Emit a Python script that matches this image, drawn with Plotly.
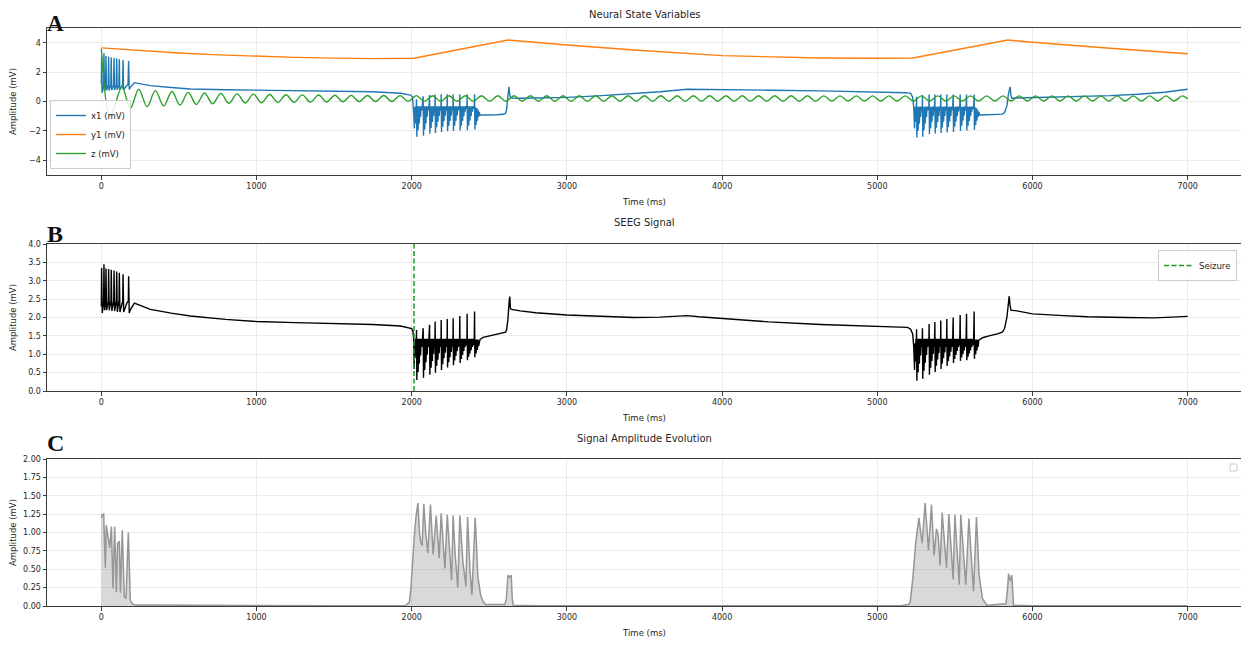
import plotly.graph_objects as go

# ---------------- DATA ----------------
time_ticks = [0, 1000, 2000, 3000, 4000, 5000, 6000, 7000]
time_tick_text = ["0", "1000", "2000", "3000", "4000", "5000", "6000", "7000"]
a_ticks = [-4, -2, 0, 2, 4]
a_tick_text = ["\u22124", "\u22122", "0", "2", "4"]
b_ticks = [0, 0.5, 1.0, 1.5, 2.0, 2.5, 3.0, 3.5, 4.0]
b_tick_text = ["0.0", "0.5", "1.0", "1.5", "2.0", "2.5", "3.0", "3.5", "4.0"]
c_ticks = [0, 0.25, 0.5, 0.75, 1.0, 1.25, 1.5, 1.75, 2.0]
c_tick_text = ["0.00", "0.25", "0.50", "0.75", "1.00", "1.25", "1.50", "1.75", "2.00"]

seizure_onset = 2015

# ---- x1 (mV) ----
x1_t_pre = [0, 2, 5, 14, 17, 20, 27, 30, 33, 44, 47, 50, 61, 64, 67, 79, 82, 85, 96, 99,
            102, 113, 116, 119, 137, 140, 143, 155, 165, 172, 176, 180, 190, 213, 316, 450, 574, 800, 1000, 1250,
            1498, 1750, 1928, 1993, 2005, 2010, 2014, 2017, 2020, 2023, 2026, 2029]
x1_v_pre = [1.2, 3.05, 0.6, 1.1, 3.28, 0.7, 1.1, 3.10, 0.75, 1.1, 3.05, 0.75, 1.1, 3.0, 0.78, 1.1, 2.97, 0.78, 1.1, 2.95,
            0.8, 1.1, 2.88, 0.8, 1.15, 2.82, 0.8, 1.0, 1.1, 1.15, 2.76, 0.83, 1.0, 1.28, 1.08, 0.95, 0.85, 0.80, 0.78, 0.75,
            0.72, 0.66, 0.56, 0.44, 0.3, -0.2, -1.0, -1.83, -0.35, -1.5, -0.35, -1.0]

x1_t_b2 = [2031, 2033, 2037, 2041, 2045, 2049, 2053, 2057, 2061, 2065, 2069,
           2074, 2076, 2080, 2084, 2088, 2092, 2096, 2100, 2104, 2108, 2112,
           2115, 2117, 2121, 2125, 2129, 2133, 2137, 2141, 2145, 2149,
           2151, 2153, 2157, 2161, 2165, 2169, 2173, 2177, 2181, 2185, 2189,
           2190, 2192, 2196, 2200, 2204, 2208, 2212, 2216, 2220, 2224, 2228,
           2229, 2231, 2235, 2239, 2243, 2247, 2251, 2255, 2259, 2263, 2266,
           2267, 2269, 2273, 2277, 2281, 2285, 2289, 2293, 2297, 2301, 2305, 2308,
           2310, 2312, 2316, 2320, 2324, 2328, 2332, 2336, 2340, 2344, 2348, 2352, 2356,
           2357, 2359, 2363, 2367, 2371, 2375, 2379, 2383, 2387, 2391, 2395, 2399, 2403,
           2405, 2407, 2411, 2415, 2419, 2423, 2427, 2431, 2435, 2440]
x1_v_b2 = [0.15, -2.39, -0.32, -1.95, -0.32, -1.5, -0.32, -1.05, -0.32, -0.6, -0.32,
           0.35, -2.33, -0.32, -1.9, -0.32, -1.47, -0.32, -1.03, -0.32, -0.6, -0.32,
           0.45, -2.2, -0.32, -1.8, -0.32, -1.4, -0.32, -1.0, -0.32, -0.6,
           0.48, -2.14, -0.32, -1.75, -0.32, -1.37, -0.32, -0.98, -0.32, -0.6, -0.32,
           0.5, -2.08, -0.32, -1.71, -0.32, -1.34, -0.32, -0.97, -0.32, -0.6, -0.32,
           0.5, -2.03, -0.32, -1.67, -0.32, -1.32, -0.32, -0.96, -0.32, -0.6, -0.32,
           0.5, -2.0, -0.32, -1.65, -0.32, -1.3, -0.32, -0.95, -0.32, -0.6, -0.32, -0.5,
           0.5, -1.97, -0.32, -1.65, -0.32, -1.33, -0.32, -1.0, -0.32, -0.7, -0.32, -0.5, -0.32,
           0.5, -1.95, -0.32, -1.63, -0.32, -1.3, -0.32, -1.0, -0.32, -0.7, -0.32, -0.5, -0.32,
           0.5, -1.9, -0.4, -1.6, -0.45, -1.3, -0.55, -1.05, -0.7, -0.92]

x1_t_mid = [2460, 2500, 2550, 2590, 2605, 2612, 2618, 2624, 2627, 2631,
            2636, 2650, 2700, 2800, 3000, 3200, 3400, 3600, 3775, 4000,
            4300, 4640, 5000, 5184, 5215, 5228, 5235, 5240, 5243, 5246,
            5249, 5251]
x1_v_mid = [-0.93, -0.92, -0.90, -0.87, -0.80, -0.5, 0.2, 0.85, 1.0, 0.5,
            0.28, 0.24, 0.22, 0.24, 0.28, 0.38, 0.5, 0.66, 0.83, 0.82,
            0.77, 0.72, 0.66, 0.6, 0.55, 0.3, -0.4, -1.83, -0.35, -1.4,
            -0.35, -0.9]

x1_t_b3 = [5253, 5255, 5259, 5263, 5267, 5271, 5275, 5279, 5283, 5287, 5290,
           5291, 5293, 5297, 5301, 5305, 5309, 5313, 5317, 5321, 5325, 5329, 5332,
           5334, 5336, 5340, 5344, 5348, 5352, 5356, 5360, 5364, 5368,
           5371, 5373, 5377, 5381, 5385, 5389, 5393, 5397, 5401, 5405, 5408,
           5409, 5411, 5415, 5419, 5423, 5427, 5431, 5435, 5439, 5443, 5447,
           5448, 5450, 5454, 5458, 5462, 5466, 5470, 5474, 5478, 5482, 5486,
           5489, 5491, 5495, 5499, 5503, 5507, 5511, 5515, 5519, 5523, 5527, 5531,
           5534, 5536, 5540, 5544, 5548, 5552, 5556, 5560, 5564, 5568, 5572,
           5575, 5577, 5581, 5585, 5589, 5593, 5597, 5601, 5605, 5609, 5613, 5617, 5621,
           5624, 5626, 5630, 5634, 5638, 5642, 5646, 5650, 5654, 5660]
x1_v_b3 = [0.33, -2.44, -0.35, -1.98, -0.35, -1.52, -0.35, -1.06, -0.35, -0.6, -0.35,
           0.45, -2.4, -0.35, -1.95, -0.35, -1.5, -0.35, -1.05, -0.35, -0.6, -0.35, -0.5,
           0.47, -2.23, -0.35, -1.82, -0.35, -1.41, -0.35, -1.0, -0.35, -0.6,
           0.47, -2.18, -0.35, -1.78, -0.35, -1.39, -0.35, -0.99, -0.35, -0.6, -0.35,
           0.47, -2.14, -0.35, -1.76, -0.35, -1.37, -0.35, -0.99, -0.35, -0.6, -0.35,
           0.47, -2.11, -0.35, -1.73, -0.35, -1.36, -0.35, -0.98, -0.35, -0.6, -0.35,
           0.47, -2.07, -0.35, -1.72, -0.35, -1.36, -0.35, -1.0, -0.35, -0.7, -0.35, -0.5,
           0.47, -2.0, -0.35, -1.65, -0.35, -1.3, -0.35, -0.95, -0.35, -0.6, -0.35,
           0.47, -1.97, -0.35, -1.65, -0.35, -1.33, -0.35, -1.0, -0.35, -0.7, -0.35, -0.5, -0.35,
           0.47, -1.92, -0.4, -1.6, -0.45, -1.3, -0.55, -1.05, -0.7, -0.92]

x1_t_post = [5678, 5720, 5780, 5807, 5820, 5835, 5845, 5852, 5856, 5860, 5866, 5900, 6000, 6200, 6355, 6500, 6677, 6850, 7000]
x1_v_post = [-0.92, -0.91, -0.89, -0.86, -0.75, -0.3, 0.5, 0.95, 1.0, 0.5, 0.22, 0.24, 0.27, 0.30, 0.33, 0.40, 0.49, 0.63, 0.83]

# ---- y1 (mV) ----
y1_t = [0, 250, 500, 750, 1000, 1250, 1500, 1750, 2015, 2620, 3000, 3432, 4000, 4300, 4640, 5000, 5230, 5840, 6000, 6500, 7000]
y1_v = [3.65, 3.45, 3.30, 3.17, 3.07, 3.00, 2.95, 2.92, 2.94, 4.18, 3.84, 3.50, 3.12, 3.03, 2.96, 2.94, 2.96, 4.18, 4.03, 3.62, 3.25]

# ---- z (mV): turning points of the oscillation ----
z_t = [0, 58, 133, 187, 241, 295, 348, 402, 455, 507, 560, 612, 665, 717, 770, 822, 875, 927, 980, 1032,
       1085, 1137, 1190, 1242, 1295, 1347, 1400, 1452, 1505, 1557, 1610, 1662, 1715, 1767, 1820, 1872, 1925, 1977,
       2030, 2082, 2135, 2187, 2240, 2292, 2345, 2397, 2450, 2502, 2555, 2607, 2660, 2712, 2765, 2817, 2870, 2922,
       2975, 3027, 3080, 3132, 3185, 3237, 3290, 3342, 3395, 3447, 3500, 3552, 3605, 3657, 3710, 3762, 3815, 3867,
       3920, 3972, 4025, 4077, 4130, 4182, 4235, 4287, 4340, 4392, 4445, 4497, 4550, 4602, 4655, 4707, 4760, 4812,
       4865, 4917, 4970, 5022, 5075, 5127, 5180, 5232, 5285, 5337, 5390, 5442, 5495, 5547, 5600, 5652, 5705, 5757,
       5810, 5862, 5915, 5967, 6020, 6072, 6125, 6177, 6230, 6282, 6335, 6387, 6440, 6492, 6545, 6597, 6650, 6702,
       6755, 6807, 6860, 6912, 6965, 7000]
z_v = [3.6, -1.03, 0.97, -0.46, 0.83, -0.35, 0.74, -0.30, 0.68, -0.24, 0.62, -0.20, 0.58, -0.16, 0.55, -0.13, 0.52, -0.10, 0.50, -0.08,
       0.48, -0.06, 0.46, -0.05, 0.45, -0.04, 0.44, -0.03, 0.43, -0.02, 0.42, -0.01, 0.41, 0.00, 0.41, 0.00, 0.40, 0.01,
       0.40, 0.01, 0.39, 0.02, 0.39, 0.02, 0.39, 0.02, 0.39, 0.02, 0.39, 0.02, 0.39, 0.02, 0.39, 0.02, 0.39, 0.02,
       0.39, 0.02, 0.39, 0.02, 0.39, 0.02, 0.39, 0.02, 0.39, 0.02, 0.39, 0.02, 0.39, 0.02, 0.39, 0.02, 0.39, 0.02,
       0.39, 0.02, 0.39, 0.02, 0.39, 0.02, 0.39, 0.02, 0.39, 0.02, 0.39, 0.02, 0.39, 0.02, 0.38, 0.03, 0.38, 0.03,
       0.38, 0.03, 0.38, 0.03, 0.38, 0.03, 0.38, 0.03, 0.38, 0.03, 0.38, 0.03, 0.38, 0.03, 0.38, 0.03, 0.38, 0.03,
       0.38, 0.03, 0.38, 0.03, 0.38, 0.03, 0.38, 0.03, 0.38, 0.03, 0.38, 0.03, 0.38, 0.03, 0.38, 0.03, 0.38, 0.03,
       0.38, 0.03, 0.38, 0.03, 0.38, 0.18]

# ---- SEEG signal (mV) ----
seeg_t_pre = [0, 2, 6, 15, 17, 21, 28, 30, 34, 45, 47, 51, 62, 64, 68, 80, 82, 86, 97, 99,
              103, 114, 116, 120, 138, 140, 144, 155, 165, 174, 176, 180, 186, 213, 316, 450, 574, 800, 1000, 1250,
              1498, 1750, 1928, 1982, 2000, 2008, 2013, 2016, 2019, 2022, 2025, 2028]
seeg_v_pre = [2.3, 3.35, 2.12, 2.45, 3.45, 2.2, 2.45, 3.33, 2.2, 2.45, 3.32, 2.2, 2.45, 3.30, 2.18, 2.45, 3.28, 2.18, 2.45, 3.25,
              2.15, 2.45, 3.22, 2.15, 2.45, 3.18, 2.15, 2.3, 2.4, 2.45, 3.12, 2.12, 2.2, 2.39, 2.22, 2.12, 2.04, 1.95, 1.89, 1.86,
              1.84, 1.81, 1.77, 1.73, 1.70, 1.62, 1.4, 0.6, 1.35, 0.9, 1.42, 1.1]

seeg_t_b2 = x1_t_b2
seeg_v_b2 = [1.66, 0.30, 1.42, 0.52, 1.42, 0.75, 1.42, 0.97, 1.42, 1.20, 1.42,
             1.71, 0.36, 1.42, 0.57, 1.42, 0.78, 1.42, 0.99, 1.42, 1.20, 1.42,
             1.80, 0.44, 1.42, 0.63, 1.42, 0.82, 1.42, 1.01, 1.42, 1.20,
             1.89, 0.50, 1.42, 0.68, 1.42, 0.85, 1.42, 1.03, 1.42, 1.20, 1.42,
             1.93, 0.57, 1.42, 0.73, 1.42, 0.89, 1.42, 1.04, 1.42, 1.20, 1.42,
             1.96, 0.64, 1.42, 0.78, 1.42, 0.92, 1.42, 1.06, 1.42, 1.20, 1.42,
             1.98, 0.70, 1.42, 0.83, 1.42, 0.95, 1.42, 1.08, 1.42, 1.20, 1.42, 1.25,
             2.04, 0.76, 1.42, 0.87, 1.42, 0.98, 1.42, 1.09, 1.42, 1.20, 1.42, 1.25, 1.42,
             2.10, 0.84, 1.42, 0.93, 1.42, 1.02, 1.42, 1.11, 1.42, 1.20, 1.42, 1.25, 1.42,
             2.16, 0.92, 1.40, 1.02, 1.40, 1.12, 1.40, 1.22, 1.38, 1.40]

seeg_t_mid = [2460, 2500, 2550, 2590, 2605, 2612, 2620, 2628, 2632, 2636,
              2642, 2700, 2800, 3000, 3200, 3432, 3600, 3700, 3776, 3850,
              3991, 4300, 4636, 5001, 5195, 5215, 5228, 5235, 5240, 5243,
              5246, 5249, 5251]
seeg_v_mid = [1.46, 1.50, 1.53, 1.58, 1.60, 1.68, 1.95, 2.45, 2.57, 2.25,
              2.22, 2.18, 2.13, 2.07, 2.03, 2.00, 2.01, 2.03, 2.05, 2.02,
              1.97, 1.88, 1.81, 1.77, 1.73, 1.68, 1.55, 1.2, 0.57, 1.3,
              0.8, 1.42, 1.1]

seeg_t_b3 = x1_t_b3
seeg_v_b3 = [1.68, 0.28, 1.42, 0.51, 1.42, 0.74, 1.42, 0.97, 1.42, 1.20, 1.42,
             1.71, 0.33, 1.42, 0.55, 1.42, 0.77, 1.42, 0.98, 1.42, 1.20, 1.42, 1.25,
             1.82, 0.44, 1.42, 0.63, 1.42, 0.82, 1.42, 1.01, 1.42, 1.20,
             1.88, 0.52, 1.42, 0.69, 1.42, 0.86, 1.42, 1.03, 1.42, 1.20, 1.42,
             1.92, 0.60, 1.42, 0.75, 1.42, 0.90, 1.42, 1.05, 1.42, 1.20, 1.42,
             1.96, 0.68, 1.42, 0.81, 1.42, 0.94, 1.42, 1.07, 1.42, 1.20, 1.42,
             2.00, 0.76, 1.42, 0.87, 1.42, 0.98, 1.42, 1.09, 1.42, 1.20, 1.42, 1.25,
             2.07, 0.82, 1.42, 0.92, 1.42, 1.01, 1.42, 1.10, 1.42, 1.20, 1.42,
             2.10, 0.84, 1.42, 0.93, 1.42, 1.02, 1.42, 1.11, 1.42, 1.20, 1.42, 1.25, 1.42,
             2.16, 0.88, 1.40, 1.00, 1.40, 1.10, 1.40, 1.20, 1.38, 1.40]

seeg_t_post = [5678, 5720, 5780, 5807, 5820, 5835, 5845, 5850, 5855, 5861, 5900, 6000, 6200, 6355, 6600, 6784, 6900, 7000]
seeg_v_post = [1.45, 1.50, 1.56, 1.61, 1.70, 2.00, 2.45, 2.58, 2.35, 2.20, 2.18, 2.10, 2.05, 2.02, 2.00, 1.99, 2.01, 2.03]

# ---- Signal amplitude envelope (mV) ----
amp_t = [0, 4, 15, 26, 32, 43, 54, 65, 75, 86, 97, 105, 116, 123, 135, 148, 159, 174, 187, 200,
         215, 300, 450, 550, 600, 1000, 1500, 1960, 1985, 1995, 2005, 2012, 2020, 2030, 2040, 2050, 2057, 2067, 2078, 2090,
         2104, 2121, 2130, 2138, 2158, 2168, 2177, 2190, 2200, 2214, 2229, 2243, 2257, 2267, 2280, 2297, 2310, 2330, 2349, 2360,
         2375, 2388, 2409, 2418, 2426, 2444, 2460, 2476, 2550, 2600, 2610, 2620, 2631, 2641, 2648, 2655, 2800, 3780, 4500, 5150,
         5200, 5212, 5230, 5248, 5268, 5289, 5308, 5330, 5349, 5366, 5381, 5392, 5405, 5418, 5446, 5461, 5489, 5500, 5528, 5538,
         5570, 5590, 5620, 5639, 5656, 5678, 5706, 5800, 5829, 5838, 5846, 5856, 5867, 5873, 5878, 6000, 7000]
amp_v = [1.20, 1.24, 1.25, 0.52, 1.10, 0.95, 0.79, 1.08, 0.24, 1.08, 0.19, 0.85, 0.88, 0.18, 1.03, 0.13, 0.10, 1.00, 0.08, 0.03,
         0.015, 0.012, 0.010, 0.015, 0.005, 0.003, 0.003, 0.005, 0.05, 0.25, 0.60, 0.85, 1.05, 1.25, 1.40, 1.00, 0.88, 0.82, 1.39, 1.00,
         0.72, 1.38, 1.00, 0.70, 1.23, 0.90, 0.65, 1.26, 0.95, 0.51, 1.24, 0.80, 0.35, 1.23, 0.70, 0.25, 1.23, 0.60, 0.27, 1.21,
         0.50, 0.15, 1.20, 0.80, 0.40, 0.15, 0.06, 0.02, 0.02, 0.02, 0.10, 0.42, 0.39, 0.42, 0.10, 0.01, 0.005, 0.005, 0.003, 0.003,
         0.02, 0.05, 0.40, 0.87, 1.20, 0.85, 1.40, 0.76, 1.38, 0.69, 1.05, 0.97, 0.55, 1.27, 0.52, 1.25, 0.36, 1.24, 0.29, 1.24,
         0.29, 1.19, 0.20, 1.21, 0.42, 0.10, 0.01, 0.02, 0.03, 0.20, 0.44, 0.34, 0.42, 0.20, 0.01, 0.003, 0.003]

# ---------------- assemble series ----------------
x1_t = x1_t_pre + x1_t_b2 + x1_t_mid + x1_t_b3 + x1_t_post
x1_v = x1_v_pre + x1_v_b2 + x1_v_mid + x1_v_b3 + x1_v_post
seeg_t = seeg_t_pre + seeg_t_b2 + seeg_t_mid + seeg_t_b3 + seeg_t_post
seeg_v = seeg_v_pre + seeg_v_b2 + seeg_v_mid + seeg_v_b3 + seeg_v_post

for name, a, b in [("x1", x1_t, x1_v), ("y1", y1_t, y1_v), ("z", z_t, z_v),
                   ("seeg", seeg_t, seeg_v), ("amp", amp_t, amp_v)]:
    assert len(a) == len(b), (name, len(a), len(b))

# ---------------- figure ----------------
FONT = "DejaVu Sans"
TXT = "#262626"
# the page body has an 8 px margin, so the figure is 8 px smaller and starts at (8, 8)
OFF = 8
W, H = 1249 - OFF, 645 - OFF
PLOT_L, PLOT_R, PLOT_T, PLOT_B = 47, 1242, 28, 606   # page pixel box of the plot areas
ML, MR, MT, MB = PLOT_L - OFF, (W + OFF) - PLOT_R, PLOT_T - OFF, (H + OFF) - PLOT_B
PH = PLOT_B - PLOT_T
PW = PLOT_R - PLOT_L


def py2paper(py):
    return (PLOT_B - py) / PH


def px2paper(px):
    return (px - PLOT_L) / PW


fig = go.Figure()

fig.add_trace(go.Scatter(x=x1_t, y=x1_v, mode="lines", name="x1 (mV)",
                         line=dict(color="#1f77b4", width=1.4), xaxis="x", yaxis="y", legend="legend"))
fig.add_trace(go.Scatter(x=y1_t, y=y1_v, mode="lines", name="y1 (mV)",
                         line=dict(color="#ff7f0e", width=1.4), xaxis="x", yaxis="y", legend="legend"))
fig.add_trace(go.Scatter(x=z_t, y=z_v, mode="lines", name="z (mV)",
                         line=dict(color="#2ca02c", width=1.4, shape="spline", smoothing=1.0),
                         xaxis="x", yaxis="y", legend="legend"))

fig.add_trace(go.Scatter(x=seeg_t, y=seeg_v, mode="lines", name="SEEG",
                         line=dict(color="black", width=1.4), xaxis="x2", yaxis="y2", showlegend=False))
fig.add_trace(go.Scatter(x=[seizure_onset, seizure_onset], y=[b_ticks[0], b_ticks[-1]], mode="lines",
                         name="Seizure", line=dict(color="#1f9a1f", width=1.5, dash="5px,2.5px"),
                         xaxis="x2", yaxis="y2", legend="legend2"))

fig.add_trace(go.Scatter(x=amp_t, y=amp_v, mode="lines", name="Amplitude",
                         line=dict(color="rgb(150,150,150)", width=1.5),
                         fill="tozeroy", fillcolor="rgba(128,128,128,0.3)",
                         xaxis="x3", yaxis="y3", showlegend=False))

axis_common = dict(showline=True, linecolor="#3a3a3a", linewidth=1, mirror=True,
                   ticks="outside", ticklen=3.5, tickwidth=0.8, tickcolor="#3a3a3a",
                   showgrid=True, gridcolor="#ebebeb", gridwidth=0.8, zeroline=False,
                   tickfont=dict(size=8, color=TXT, family=FONT))
xtitle = dict(text="Time (ms)", font=dict(size=8.5, color=TXT, family=FONT), standoff=8)
ytitle = dict(text="Amplitude (mV)", font=dict(size=8.5, color=TXT, family=FONT), standoff=12)

domA = [py2paper(175), 1.0]
domB = [py2paper(391), py2paper(244)]
domC = [0.0, py2paper(459)]

fig.update_layout(
    width=W, height=H,
    margin=dict(l=ML, r=MR, t=MT, b=MB, autoexpand=False),
    plot_bgcolor="white", paper_bgcolor="white",
    font=dict(family=FONT, color=TXT),
    xaxis=dict(domain=[0, 1], anchor="y", range=[-350, 7350], tickvals=time_ticks, ticktext=time_tick_text,
               title=xtitle, **axis_common),
    yaxis=dict(domain=domA, anchor="x", range=[-5, 5], tickvals=a_ticks, ticktext=a_tick_text,
               title=ytitle, **axis_common),
    xaxis2=dict(domain=[0, 1], anchor="y2", range=[-350, 7350], tickvals=time_ticks, ticktext=time_tick_text,
                title=xtitle, **axis_common),
    yaxis2=dict(domain=domB, anchor="x2", range=[0, 4], tickvals=b_ticks, ticktext=b_tick_text,
                title=ytitle, **axis_common),
    xaxis3=dict(domain=[0, 1], anchor="y3", range=[-350, 7350], tickvals=time_ticks, ticktext=time_tick_text,
                title=xtitle, **axis_common),
    yaxis3=dict(domain=domC, anchor="x3", range=[0, 2], tickvals=c_ticks, ticktext=c_tick_text,
                title=ytitle, **axis_common),
    legend=dict(x=px2paper(50), y=py2paper(169), xanchor="left", yanchor="bottom",
                bgcolor="rgba(255,255,255,0.85)", bordercolor="#cccccc", borderwidth=1,
                font=dict(size=8.5, color=TXT, family=FONT), itemwidth=30, tracegroupgap=0),
    legend2=dict(x=px2paper(1237), y=py2paper(250), xanchor="right", yanchor="top",
                 bgcolor="rgba(255,255,255,0.85)", bordercolor="#cccccc", borderwidth=1,
                 font=dict(size=8.5, color=TXT, family=FONT), itemwidth=30),
    showlegend=True,
)

# empty legend box of panel C
fig.add_shape(type="rect", xref="paper", yref="paper",
              x0=px2paper(1230), x1=px2paper(1237), y0=py2paper(471), y1=py2paper(464),
              line=dict(color="#cccccc", width=1), fillcolor="white")

# subplot titles
for txt, py in [("Neural State Variables", 15), ("SEEG Signal", 222), ("Signal Amplitude Evolution", 438)]:
    fig.add_annotation(text=txt, x=0.5, y=py2paper(py), xref="paper", yref="paper",
                       xanchor="center", yanchor="middle", showarrow=False,
                       font=dict(size=10, color=TXT, family=FONT))

# panel letters (A kept inside the top edge of the figure)
fig.add_annotation(text="<b>A</b>", x=px2paper(45), y=py2paper(OFF + 1), xref="paper", yref="paper",
                   xanchor="left", yanchor="top", showarrow=False,
                   font=dict(size=23, color="#111111", family="Liberation Serif"))
for txt, py in [("B", 234), ("C", 443)]:
    fig.add_annotation(text="<b>%s</b>" % txt, x=px2paper(45), y=py2paper(py), xref="paper", yref="paper",
                       xanchor="left", yanchor="middle", showarrow=False,
                       font=dict(size=24, color="#111111", family="Liberation Serif"))

fig.write_html("out.html")
